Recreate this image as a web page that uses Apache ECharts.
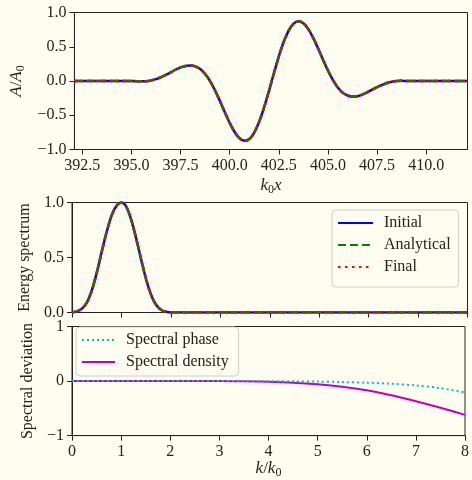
<!DOCTYPE html>
<html>
<head>
<meta charset="utf-8">
<script src="https://cdn.jsdelivr.net/npm/echarts@6/dist/echarts.min.js"></script>
<style>
  html, body { margin: 0; padding: 0; background: #fffdf0; }
  #chart { width: 472px; height: 480px; }
</style>
</head>
<body>
<div id="chart"></div>
<script>
// Wave packet A/A0 against k0 x (Initial, Analytical and Final coincide)
const waveX = [392.1, 395.0, 395.5, 395.75, 396.0, 396.25, 396.5, 396.75, 397.0, 397.25, 397.5, 397.75,
  398.0, 398.25, 398.5, 398.75, 399.0, 399.25, 399.5, 399.75, 400.0, 400.25, 400.5, 400.75,
  401.0, 401.25, 401.5, 401.75, 402.0, 402.25, 402.5, 402.75, 403.0, 403.25, 403.5, 403.75,
  404.0, 404.25, 404.5, 404.75, 405.0, 405.25, 405.5, 405.75, 406.0, 406.25, 406.5, 406.75,
  407.0, 407.25, 407.5, 407.75, 408.0, 408.25, 408.5, 408.75, 409.0, 412.1];
const waveInitial = [0, 0, -0.005, -0.004, 0.008, 0.028, 0.055, 0.089, 0.126, 0.165, 0.198, 0.220,
  0.228, 0.214, 0.174, 0.103, -0.001, -0.135, -0.291, -0.455, -0.612, -0.744, -0.836, -0.873,
  -0.846, -0.752, -0.595, -0.386, -0.143, 0.113, 0.358, 0.572, 0.736, 0.838, 0.873, 0.843,
  0.757, 0.629, 0.474, 0.311, 0.153, 0.016, -0.095, -0.170, -0.212, -0.228, -0.222, -0.198,
  -0.165, -0.127, -0.090, -0.058, -0.030, -0.010, 0.000, 0.002, 0, 0];
const waveAnalytical = waveInitial.slice();
const waveFinal = waveInitial.slice();
const waveTicks = [392.5, 395.0, 397.5, 400.0, 402.5, 405.0, 407.5, 410.0];

// Normalised energy spectrum against k/k0
const specK = [0, 0.1, 0.2, 0.3, 0.4, 0.5, 0.6, 0.7, 0.8, 0.9, 1.0, 1.1, 1.2, 1.3, 1.4, 1.5,
  1.6, 1.7, 1.8, 1.9, 2.0, 2.2, 3.0, 8.0];
const specInitial = [0.003, 0.01, 0.035, 0.09, 0.2, 0.36, 0.55, 0.73, 0.88, 0.97, 1.0, 0.96,
  0.84, 0.67, 0.48, 0.3, 0.16, 0.07, 0.025, 0.007, 0.001, 0, 0, 0];
const specAnalytical = specInitial.slice();
const specFinal = specInitial.slice();

// Spectral deviation against k/k0
const devK = [0, 0.5, 1, 1.5, 2, 2.5, 3, 3.5, 4, 4.5, 5, 5.5, 6, 6.5, 7, 7.5, 8];
const devPhase = [0, 0, 0, 0, 0, 0, 0, 0, -0.002, -0.005, -0.01, -0.018, -0.03, -0.05, -0.08, -0.13, -0.21];
const devDensity = [0, 0, 0, 0, 0, 0, -0.001, -0.004, -0.012, -0.03, -0.06, -0.105, -0.17, -0.26, -0.37, -0.49, -0.62];

const pairs = (xs, ys) => xs.map((x, i) => [x, ys[i]]);

const FONT = 'Liberation Serif';
const FS = 16;
const INK = '#222';
const BG = '#fffdf0';
const minus = v => (v < 0 ? '\u2212' : '') + Math.abs(v);
const minus1 = v => (v < 0 ? '\u2212' : '') + Math.abs(v).toFixed(1);

const nameRich = {
  i: { fontFamily: FONT, fontStyle: 'italic', fontSize: 17, color: INK },
  r: { fontFamily: FONT, fontSize: 17, color: INK },
  s: { fontFamily: FONT, fontSize: 12, color: INK, padding: [8, 0, 0, 0] }
};

const axisCommon = {
  axisLine: { show: true, onZero: false, lineStyle: { color: INK, width: 1 } },
  axisTick: { show: true, length: 5, lineStyle: { color: INK, width: 1 } },
  splitLine: { show: false },
  axisLabel: { fontFamily: FONT, fontSize: FS, color: INK, margin: 8 }
};

const gridBox = { show: true, borderColor: INK, borderWidth: 1, backgroundColor: 'transparent', containLabel: false };

const lineSeries = (name, color, type, width, xi, yi, data, z) => ({
  name, type: 'line', xAxisIndex: xi, yAxisIndex: yi, data,
  showSymbol: false, symbol: 'none', smooth: 0.3, z,
  lineStyle: { color, width, type, cap: 'butt' },
  itemStyle: { color },
  emphasis: { disabled: true }
});

// Legend keys show only the line sample, no marker
const legendCommon = {
  orient: 'vertical', itemWidth: 35, itemHeight: 14, itemGap: 6,
  backgroundColor: 'rgba(255,253,240,0.85)', borderColor: '#cccccc', borderWidth: 1, borderRadius: 4,
  itemStyle: { color: 'transparent', borderColor: 'transparent', borderWidth: 0, opacity: 0 },
  textStyle: { fontFamily: FONT, fontSize: FS, color: INK, padding: [0, 0, 0, 6] },
  selectedMode: false
};

const chart = echarts.init(document.getElementById('chart'), null, { renderer: 'canvas' });
chart.setOption({
  backgroundColor: BG,
  animation: false,
  grid: [
    Object.assign({ left: 72, top: 12.5, width: 395.5, height: 137 }, gridBox),
    Object.assign({ left: 72, top: 202.5, width: 395.5, height: 110 }, gridBox),
    Object.assign({ left: 72, top: 326.5, width: 395.5, height: 110 }, gridBox)
  ],
  xAxis: [
    Object.assign({}, axisCommon, {
      type: 'value', gridIndex: 0, min: 392.1, max: 412.1,
      axisTick: Object.assign({}, axisCommon.axisTick, { customValues: waveTicks }),
      axisLabel: Object.assign({}, axisCommon.axisLabel, { customValues: waveTicks, formatter: v => v.toFixed(1) }),
      name: '{i|k}{s|0}{i|x}', nameLocation: 'middle', nameGap: 26,
      nameTextStyle: { rich: nameRich }
    }),
    Object.assign({}, axisCommon, {
      type: 'value', gridIndex: 1, min: 0, max: 8, interval: 1,
      axisLabel: { show: false }
    }),
    Object.assign({}, axisCommon, {
      type: 'value', gridIndex: 2, min: 0, max: 8, interval: 1,
      axisLabel: Object.assign({}, axisCommon.axisLabel, { formatter: v => String(v) }),
      name: '{i|k}{r|/}{i|k}{s|0}', nameLocation: 'middle', nameGap: 21,
      nameTextStyle: { rich: nameRich }
    })
  ],
  yAxis: [
    Object.assign({}, axisCommon, {
      type: 'value', gridIndex: 0, min: -1, max: 1, interval: 0.5,
      axisLabel: Object.assign({}, axisCommon.axisLabel, { formatter: minus1 }),
      name: '{i|A}{r|/}{i|A}{s|0}', nameLocation: 'middle', nameRotate: 90, nameGap: 46,
      nameTextStyle: { rich: nameRich }
    }),
    Object.assign({}, axisCommon, {
      type: 'value', gridIndex: 1, min: 0, max: 1, interval: 0.5,
      axisLabel: Object.assign({}, axisCommon.axisLabel, { formatter: minus1 }),
      name: 'Energy spectrum', nameLocation: 'middle', nameRotate: 90, nameGap: 34,
      nameTextStyle: { fontFamily: FONT, fontSize: FS, color: INK }
    }),
    Object.assign({}, axisCommon, {
      type: 'value', gridIndex: 2, min: -1, max: 1, interval: 1,
      axisLabel: Object.assign({}, axisCommon.axisLabel, { formatter: minus }),
      name: 'Spectral deviation', nameLocation: 'middle', nameRotate: 90, nameGap: 34,
      nameTextStyle: { fontFamily: FONT, fontSize: FS, color: INK }
    })
  ],
  legend: [
    Object.assign({}, legendCommon, {
      data: ['Initial', 'Analytical', 'Final'],
      left: 332, top: 210, padding: [5, 8, 12, 5]
    }),
    Object.assign({}, legendCommon, {
      data: ['Spectral phase', 'Spectral density'],
      left: 76, top: 327, padding: [5, 10, 6, 5], itemWidth: 33
    })
  ],
  series: [
    lineSeries('Initial', '#0000ff', 'solid', 2.5, 0, 0, pairs(waveX, waveInitial), 2),
    lineSeries('Analytical', '#008000', [8, 4], 2.5, 0, 0, pairs(waveX, waveAnalytical), 3),
    lineSeries('Final', '#ff0000', [2.5, 4.5], 2.5, 0, 0, pairs(waveX, waveFinal), 4),
    lineSeries('Initial', '#0000ff', 'solid', 2.5, 1, 1, pairs(specK, specInitial), 2),
    lineSeries('Analytical', '#008000', [8, 4], 2.5, 1, 1, pairs(specK, specAnalytical), 3),
    lineSeries('Final', '#ff0000', [2.5, 4.5], 2.5, 1, 1, pairs(specK, specFinal), 4),
    lineSeries('Spectral phase', '#00bfbf', [2, 3], 2, 2, 2, pairs(devK, devPhase), 3),
    lineSeries('Spectral density', '#bf00bf', 'solid', 2, 2, 2, pairs(devK, devDensity), 2)
  ]
});
</script>
</body>
</html>
